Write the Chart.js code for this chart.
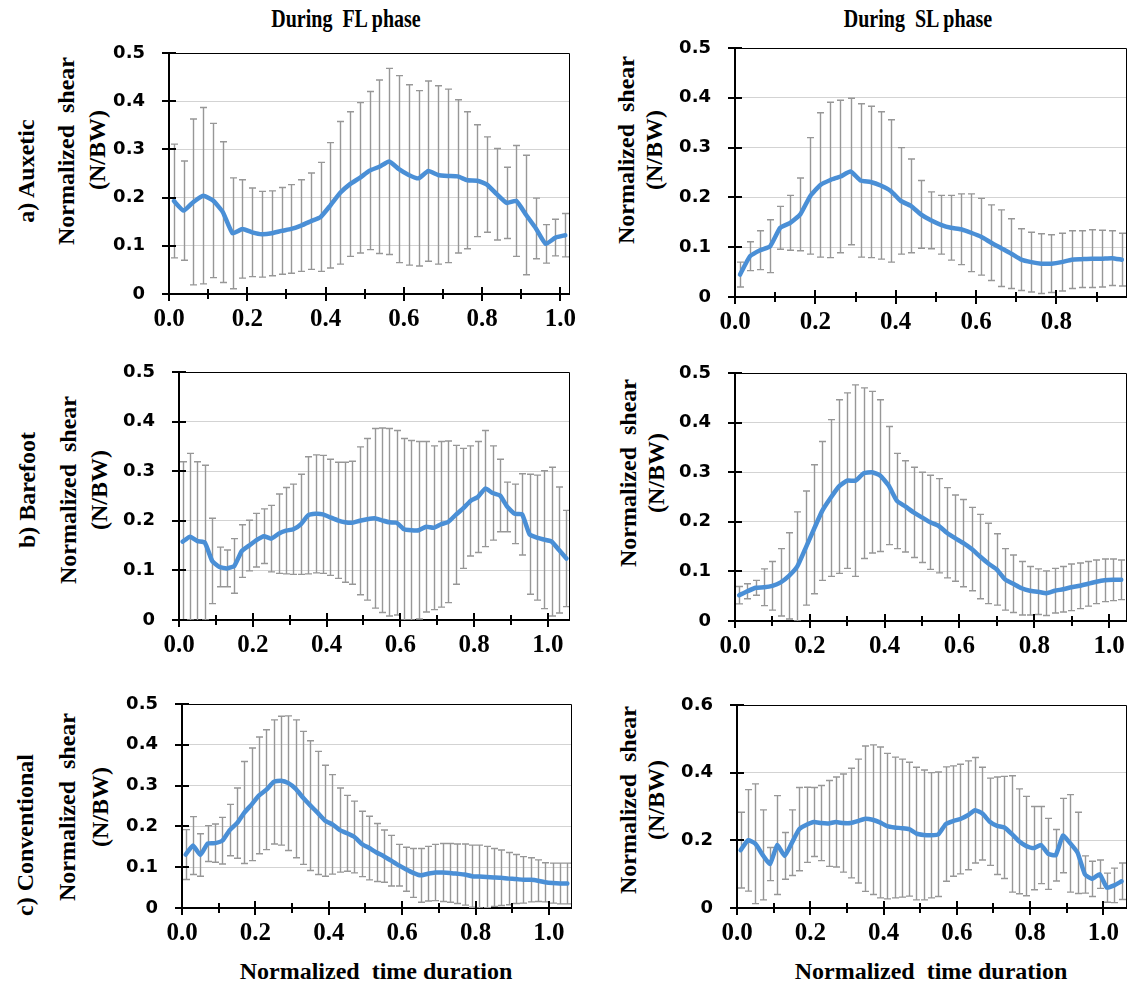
<!DOCTYPE html>
<html>
<head>
<meta charset="utf-8">
<script src="https://cdn.jsdelivr.net/npm/chart.js@4.4.1/dist/chart.umd.min.js"></script>
<style>
  body { margin: 0; background: #fff; width: 1141px; height: 984px; position: relative; overflow: hidden;
         font-family: "Liberation Serif", "Times New Roman", serif; font-weight: bold; color: #000; }
  .lbl { position: absolute; white-space: pre; line-height: 1; transform: translate(-50%, -50%); }
  .rot { transform: translate(-50%, -50%) rotate(-90deg); }
  .head { font-size: 20px; transform: translate(-50%, -50%) scaleY(1.3); }
  canvas { position: absolute; }
</style>
</head>
<body>

<div class="lbl head" style="left:346px;top:18px">During  FL phase</div>
<div class="lbl head" style="left:918px;top:18px">During  SL phase</div>

<div class="lbl rot" style="left:26px;top:171px;font-size:24px">a) Auxetic</div>
<div class="lbl rot" style="left:27px;top:490px;font-size:24px">b) Barefoot</div>
<div class="lbl rot" style="left:25px;top:835px;font-size:24px">c) Conventional</div>

<div class="lbl rot" style="left:66px;top:151px;font-size:24px">Normalized  shear</div>
<div class="lbl rot" style="left:97px;top:150px;font-size:24px">(N/BW)</div>
<div class="lbl rot" style="left:68px;top:490px;font-size:24px">Normalized  shear</div>
<div class="lbl rot" style="left:99px;top:490px;font-size:24px">(N/BW)</div>
<div class="lbl rot" style="left:67px;top:807px;font-size:24px">Normalized  shear</div>
<div class="lbl rot" style="left:100px;top:807px;font-size:24px">(N/BW)</div>

<div class="lbl rot" style="left:626px;top:150px;font-size:24px">Normalized  shear</div>
<div class="lbl rot" style="left:654px;top:150px;font-size:24px">(N/BW)</div>
<div class="lbl rot" style="left:628px;top:473px;font-size:24px">Normalized  shear</div>
<div class="lbl rot" style="left:656px;top:473px;font-size:24px">(N/BW)</div>
<div class="lbl rot" style="left:628px;top:800px;font-size:24px">Normalized  shear</div>
<div class="lbl rot" style="left:656px;top:800px;font-size:24px">(N/BW)</div>

<div class="lbl" style="left:376px;top:971px;font-size:24px">Normalized  time duration</div>
<div class="lbl" style="left:931px;top:971px;font-size:24px">Normalized  time duration</div>

<canvas id="flAuxetic"></canvas>
<canvas id="slAuxetic"></canvas>
<canvas id="flBarefoot"></canvas>
<canvas id="slBarefoot"></canvas>
<canvas id="flConv"></canvas>
<canvas id="slConv"></canvas>

<script>
// mean and SD of normalized shear
const flAuxeticMean = [0.193,0.173,0.191,0.204,0.194,0.170,0.126,0.135,0.128,0.124,0.126,0.131,0.135,0.142,0.151,0.160,0.184,0.210,0.228,0.241,0.256,0.264,0.275,0.259,0.247,0.240,0.255,0.247,0.245,0.244,0.236,0.235,0.227,0.207,0.189,0.193,0.164,0.136,0.104,0.117,0.122]
const flAuxeticSd = [0.118,0.103,0.172,0.183,0.160,0.146,0.115,0.102,0.092,0.089,0.088,0.090,0.092,0.095,0.100,0.113,0.130,0.148,0.150,0.156,0.164,0.180,0.193,0.194,0.187,0.182,0.187,0.185,0.180,0.159,0.142,0.116,0.099,0.095,0.074,0.115,0.124,0.063,0.040,0.038,0.045]

const slAuxeticMean = [0.045,0.082,0.094,0.102,0.139,0.149,0.166,0.203,0.225,0.235,0.242,0.252,0.234,0.231,0.224,0.213,0.193,0.183,0.166,0.154,0.145,0.139,0.136,0.129,0.121,0.109,0.098,0.087,0.075,0.070,0.067,0.067,0.070,0.075,0.076,0.077,0.077,0.078,0.075]
const slAuxeticSd = [0.025,0.029,0.039,0.053,0.043,0.055,0.073,0.117,0.145,0.156,0.153,0.147,0.154,0.152,0.148,0.143,0.107,0.094,0.068,0.057,0.059,0.065,0.071,0.078,0.077,0.076,0.077,0.070,0.062,0.060,0.060,0.058,0.058,0.058,0.057,0.058,0.057,0.055,0.053]

const flBarefootMean = [0.158,0.168,0.159,0.156,0.119,0.107,0.104,0.109,0.139,0.150,0.161,0.169,0.164,0.174,0.180,0.183,0.193,0.211,0.214,0.213,0.207,0.201,0.197,0.196,0.200,0.203,0.205,0.201,0.197,0.196,0.183,0.181,0.181,0.188,0.186,0.193,0.198,0.212,0.225,0.240,0.248,0.265,0.256,0.251,0.228,0.214,0.213,0.173,0.166,0.162,0.158,0.141,0.124]
const flBarefootSd = [0.161,0.168,0.160,0.156,0.086,0.040,0.037,0.055,0.053,0.051,0.054,0.055,0.067,0.080,0.087,0.091,0.101,0.118,0.119,0.119,0.117,0.117,0.121,0.124,0.149,0.163,0.181,0.186,0.189,0.186,0.183,0.181,0.179,0.172,0.165,0.167,0.163,0.140,0.121,0.111,0.112,0.117,0.095,0.073,0.050,0.060,0.082,0.121,0.126,0.139,0.150,0.127,0.097]

const slBarefootMean = [0.052,0.060,0.067,0.068,0.071,0.078,0.091,0.110,0.147,0.185,0.222,0.248,0.271,0.283,0.283,0.298,0.300,0.293,0.273,0.242,0.231,0.219,0.209,0.199,0.192,0.178,0.167,0.157,0.145,0.130,0.116,0.104,0.084,0.075,0.066,0.061,0.059,0.056,0.061,0.064,0.068,0.071,0.075,0.079,0.082,0.083,0.083]
const slBarefootSd = [0.0175,0.015,0.015,0.037,0.049,0.068,0.087,0.110,0.115,0.130,0.140,0.158,0.175,0.177,0.193,0.172,0.163,0.153,0.119,0.096,0.092,0.091,0.091,0.095,0.095,0.091,0.087,0.088,0.084,0.085,0.081,0.072,0.062,0.058,0.054,0.049,0.046,0.045,0.045,0.046,0.047,0.046,0.045,0.044,0.043,0.042,0.040]

const flConvMean = [0.131,0.153,0.130,0.158,0.159,0.165,0.191,0.208,0.234,0.254,0.276,0.290,0.309,0.312,0.306,0.292,0.270,0.251,0.233,0.214,0.205,0.191,0.183,0.174,0.157,0.147,0.136,0.127,0.116,0.105,0.095,0.086,0.080,0.084,0.087,0.087,0.086,0.084,0.082,0.078,0.077,0.076,0.075,0.074,0.072,0.071,0.069,0.069,0.067,0.063,0.061,0.060,0.060]
const flConvSd = [0.061,0.071,0.052,0.044,0.047,0.057,0.063,0.086,0.125,0.138,0.143,0.147,0.152,0.158,0.165,0.169,0.163,0.159,0.151,0.136,0.122,0.103,0.093,0.088,0.080,0.078,0.071,0.064,0.062,0.051,0.054,0.060,0.066,0.067,0.069,0.071,0.072,0.073,0.075,0.076,0.077,0.075,0.071,0.068,0.064,0.060,0.057,0.054,0.051,0.048,0.049,0.050,0.050]

const slConvMean = [0.171,0.200,0.190,0.157,0.130,0.186,0.154,0.193,0.233,0.246,0.254,0.251,0.250,0.254,0.251,0.251,0.257,0.264,0.261,0.253,0.242,0.238,0.236,0.233,0.220,0.216,0.215,0.218,0.248,0.257,0.263,0.274,0.289,0.279,0.255,0.243,0.238,0.219,0.197,0.183,0.177,0.186,0.160,0.156,0.214,0.191,0.163,0.099,0.086,0.100,0.060,0.067,0.079]
const slConvSd = [0.112,0.150,0.177,0.133,0.049,0.146,0.069,0.097,0.123,0.111,0.102,0.111,0.127,0.133,0.145,0.162,0.183,0.215,0.221,0.223,0.215,0.208,0.204,0.198,0.196,0.192,0.185,0.184,0.169,0.163,0.162,0.161,0.156,0.137,0.129,0.144,0.151,0.172,0.155,0.147,0.123,0.114,0.105,0.076,0.110,0.144,0.120,0.055,0.052,0.042,0.043,0.051,0.054]

const xTickLabels = [0, 0.2, 0.4, 0.6, 0.8, 1.0]

// plot boxes are [left, top, right, bottom] in page pixels
const panels = [
  { id: 'flAuxetic',  mean: flAuxeticMean,  sd: flAuxeticSd,  t0: 0.0125, dt: 0.025,  xMax: 1.022, yMax: 0.5, yStep: 0.1, box: [169, 53, 569, 294] },
  { id: 'slAuxetic',  mean: slAuxeticMean,  sd: slAuxeticSd,  t0: 0.0125, dt: 0.025,  xMax: 0.973, yMax: 0.5, yStep: 0.1, box: [735, 48, 1126, 297] },
  { id: 'flBarefoot', mean: flBarefootMean, sd: flBarefootSd, t0: 0.01,   dt: 0.02,   xMax: 1.057, yMax: 0.5, yStep: 0.1, box: [179, 372, 569, 620] },
  { id: 'slBarefoot', mean: slBarefootMean, sd: slBarefootSd, t0: 0.0111, dt: 0.0222, xMax: 1.045, yMax: 0.5, yStep: 0.1, box: [735, 373, 1126, 621] },
  { id: 'flConv',     mean: flConvMean,     sd: flConvSd,     t0: 0.01,   dt: 0.02,   xMax: 1.06,  yMax: 0.5, yStep: 0.1, box: [182, 704, 571, 908] },
  { id: 'slConv',     mean: slConvMean,     sd: slConvSd,     t0: 0.01,   dt: 0.02,   xMax: 1.062, yMax: 0.6, yStep: 0.2, box: [737, 705, 1126, 908] }
]

// room around each plot box; top/right must exceed the label padding Chart.js reserves
const Y_AXIS_W = 80
const X_AXIS_H = 50
const PAD_TOP = 40
const PAD_RIGHT = 30

// error bars under the line, crossing tick marks and the thin top/right frame
const decor = {
  id: 'decor',
  beforeDatasetsDraw(chart) {
    const { ctx, chartArea: a, scales: { x, y } } = chart
    const ds = chart.data.datasets[0]
    ctx.save()
    ctx.beginPath()
    ctx.rect(a.left, a.top, a.right - a.left, a.bottom - a.top)
    ctx.clip()
    ctx.strokeStyle = '#979797'
    ctx.lineWidth = 1.4
    ds.data.forEach((pt, i) => {
      const px = Math.round(x.getPixelForValue(pt.x)) + 0.5
      const hi = y.getPixelForValue(pt.y + ds.errors[i])
      const lo = y.getPixelForValue(pt.y - ds.errors[i])
      ctx.beginPath()
      ctx.moveTo(px, hi); ctx.lineTo(px, lo)
      ctx.moveTo(px - 3.5, hi); ctx.lineTo(px + 3.5, hi)
      ctx.moveTo(px - 3.5, lo); ctx.lineTo(px + 3.5, lo)
      ctx.stroke()
    })
    ctx.restore()
  },
  afterDraw(chart) {
    const { ctx, chartArea: a, scales: { x, y } } = chart
    ctx.save()
    ctx.strokeStyle = '#000'
    ctx.lineWidth = 1
    ctx.beginPath()
    ctx.moveTo(a.left, a.top + 0.5); ctx.lineTo(a.right + 0.5, a.top + 0.5)
    ctx.lineTo(a.right + 0.5, a.bottom)
    ctx.stroke()

    ctx.lineWidth = 2
    ctx.beginPath()
    y.ticks.forEach(t => {
      const py = Math.round(y.getPixelForValue(t.value))
      ctx.moveTo(a.left - 7, py); ctx.lineTo(a.left + 7, py)
    })
    for (let k = 0; k / 10 <= x.max + 1e-9; k++) {
      const px = Math.round(x.getPixelForValue(k / 10))
      const len = k % 2 === 0 ? 7 : 5
      ctx.moveTo(px, a.bottom - len); ctx.lineTo(px, a.bottom + len)
    }
    ctx.stroke()
    ctx.restore()
  }
}

panels.forEach(p => {
  const [l, t, r, b] = p.box
  const canvas = document.getElementById(p.id)
  canvas.width = (r - l) + Y_AXIS_W + PAD_RIGHT
  canvas.height = (b - t) + PAD_TOP + X_AXIS_H
  canvas.style.left = (l - Y_AXIS_W) + 'px'
  canvas.style.top = (t - PAD_TOP) + 'px'

  new Chart(canvas, {
    type: 'line',
    data: {
      datasets: [{
        data: p.mean.map((m, i) => ({ x: p.t0 + i * p.dt, y: m })),
        errors: p.sd,
        borderColor: '#4a8fd6',
        borderWidth: 4.5,
        pointRadius: 0,
        tension: 0.15,
        borderJoinStyle: 'round',
        borderCapStyle: 'round'
      }]
    },
    options: {
      responsive: false,
      animation: false,
      events: [],
      layout: { padding: { top: PAD_TOP, right: PAD_RIGHT, left: 0, bottom: 0 } },
      plugins: { legend: { display: false }, tooltip: { enabled: false } },
      scales: {
        x: {
          type: 'linear',
          min: 0,
          max: p.xMax,
          afterFit: s => { s.height = X_AXIS_H },
          afterBuildTicks: s => { s.ticks = xTickLabels.filter(v => v <= p.xMax).map(v => ({ value: v })) },
          grid: { display: false, drawTicks: false },
          border: { color: '#000', width: 2 },
          ticks: {
            autoSkip: false,
            maxRotation: 0,
            padding: 11,
            color: '#000',
            font: { family: '"Liberation Serif", "Times New Roman", serif', weight: 'bold', size: 25 },
            callback: v => Number(v).toFixed(1)
          }
        },
        y: {
          min: 0,
          max: p.yMax,
          afterFit: s => { s.width = Y_AXIS_W },
          grid: {
            drawTicks: false,
            lineWidth: 1,
            color: c => (c.tick.value === 0 || Math.abs(c.tick.value - p.yMax) < 1e-9) ? 'rgba(0,0,0,0)' : '#d3d3d3'
          },
          border: { color: '#000', width: 2 },
          ticks: {
            stepSize: p.yStep,
            padding: 24,
            color: '#000',
            font: { family: '"DejaVu Sans", Verdana, sans-serif', weight: 'bold', size: 18 },
            callback: v => v === 0 ? '0' : Number(v).toFixed(1)
          }
        }
      }
    },
    plugins: [decor]
  })
})
</script>
</body>
</html>
